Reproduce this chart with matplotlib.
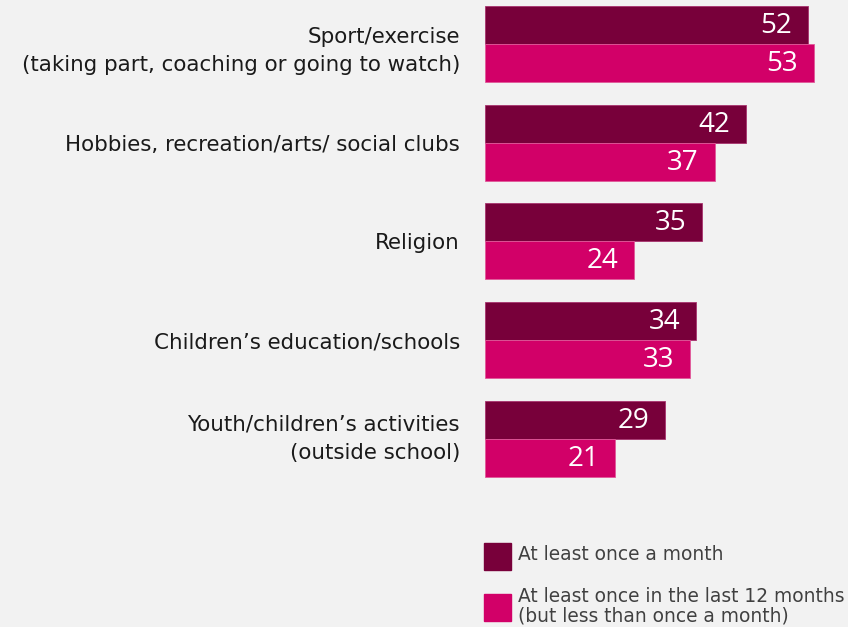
import matplotlib.pyplot as plt
from matplotlib.patches import Rectangle
from matplotlib.transforms import ScaledTranslation
import numpy as np

categories = [
    "Sport/exercise\n(taking part, coaching or going to watch)",
    "Hobbies, recreation/arts/ social clubs",
    "Religion",
    "Children\u2019s education/schools",
    "Youth/children\u2019s activities\n(outside school)",
]
monthly = [52, 42, 35, 34, 29]
yearly = [53, 37, 24, 33, 21]
series_labels = [
    "At least once a month",
    "At least once in the last 12 months\n(but less than once a month)",
]

DARK = "#78003a"
PINK = "#d20068"
BG = "#f2f2f2"

W, H = 848, 627
fig = plt.figure(figsize=(W / 100, H / 100), dpi=100, facecolor=BG)

# axes span from the bar baseline to the right edge of the figure
px_per_unit = 6.21
px_per_group = 98.75
ax = fig.add_axes([485 / W, 0, (W - 485) / W, 1])
ax.set_facecolor(BG)
ax.set_xlim(0, (W - 485) / px_per_unit)
ax.set_ylim((H - 44) / px_per_group, -44 / px_per_group)

y = np.arange(len(categories))
h = 38 / px_per_group
ax.barh(y - h / 2, monthly, height=h, color=DARK, edgecolor="#a8336e", linewidth=0.6)
ax.barh(y + h / 2, yearly, height=h, color=PINK, edgecolor="#e05a9a", linewidth=0.6)

pad = 16 / px_per_unit
for yi, v in zip(y, monthly):
    ax.text(v - pad, yi - h / 2 + 0.01, str(v), ha="right", va="center",
            color="white", fontsize=20, family="Open Sans")
for yi, v in zip(y, yearly):
    ax.text(v - pad, yi + h / 2 + 0.01, str(v), ha="right", va="center",
            color="white", fontsize=20, family="Open Sans")

ax.set_yticks(y)
ax.set_yticklabels(categories, fontsize=15.4, color="#1a1a1a", linespacing=1.55)
ax.tick_params(axis="y", length=0, pad=18)
ax.set_xticks([])
for s in ax.spines.values():
    s.set_visible(False)

# two-line labels: center the block; the first one sits a little lower
labels = ax.get_yticklabels()
for lab in labels:
    if "\n" in lab.get_text():
        lab.set_verticalalignment("center")
labels[0].set_transform(labels[0].get_transform()
                        + ScaledTranslation(0, -0.07, fig.dpi_scale_trans))

# legend drawn by hand under the bars
fig.patches.append(Rectangle((484 / W, 1 - 570 / H), 27 / W, 27 / H,
                             transform=fig.transFigure, color=DARK))
fig.text(518 / W, 1 - 555 / H, series_labels[0], fontsize=13.4,
         color="#404040", va="center")
fig.patches.append(Rectangle((484 / W, 1 - 621 / H), 27 / W, 27 / H,
                             transform=fig.transFigure, color=PINK))
fig.text(518 / W, 1 - 606 / H, series_labels[1], fontsize=13.4,
         color="#404040", va="center", linespacing=1.05)

fig.savefig("out.png", dpi=100, facecolor=BG)
